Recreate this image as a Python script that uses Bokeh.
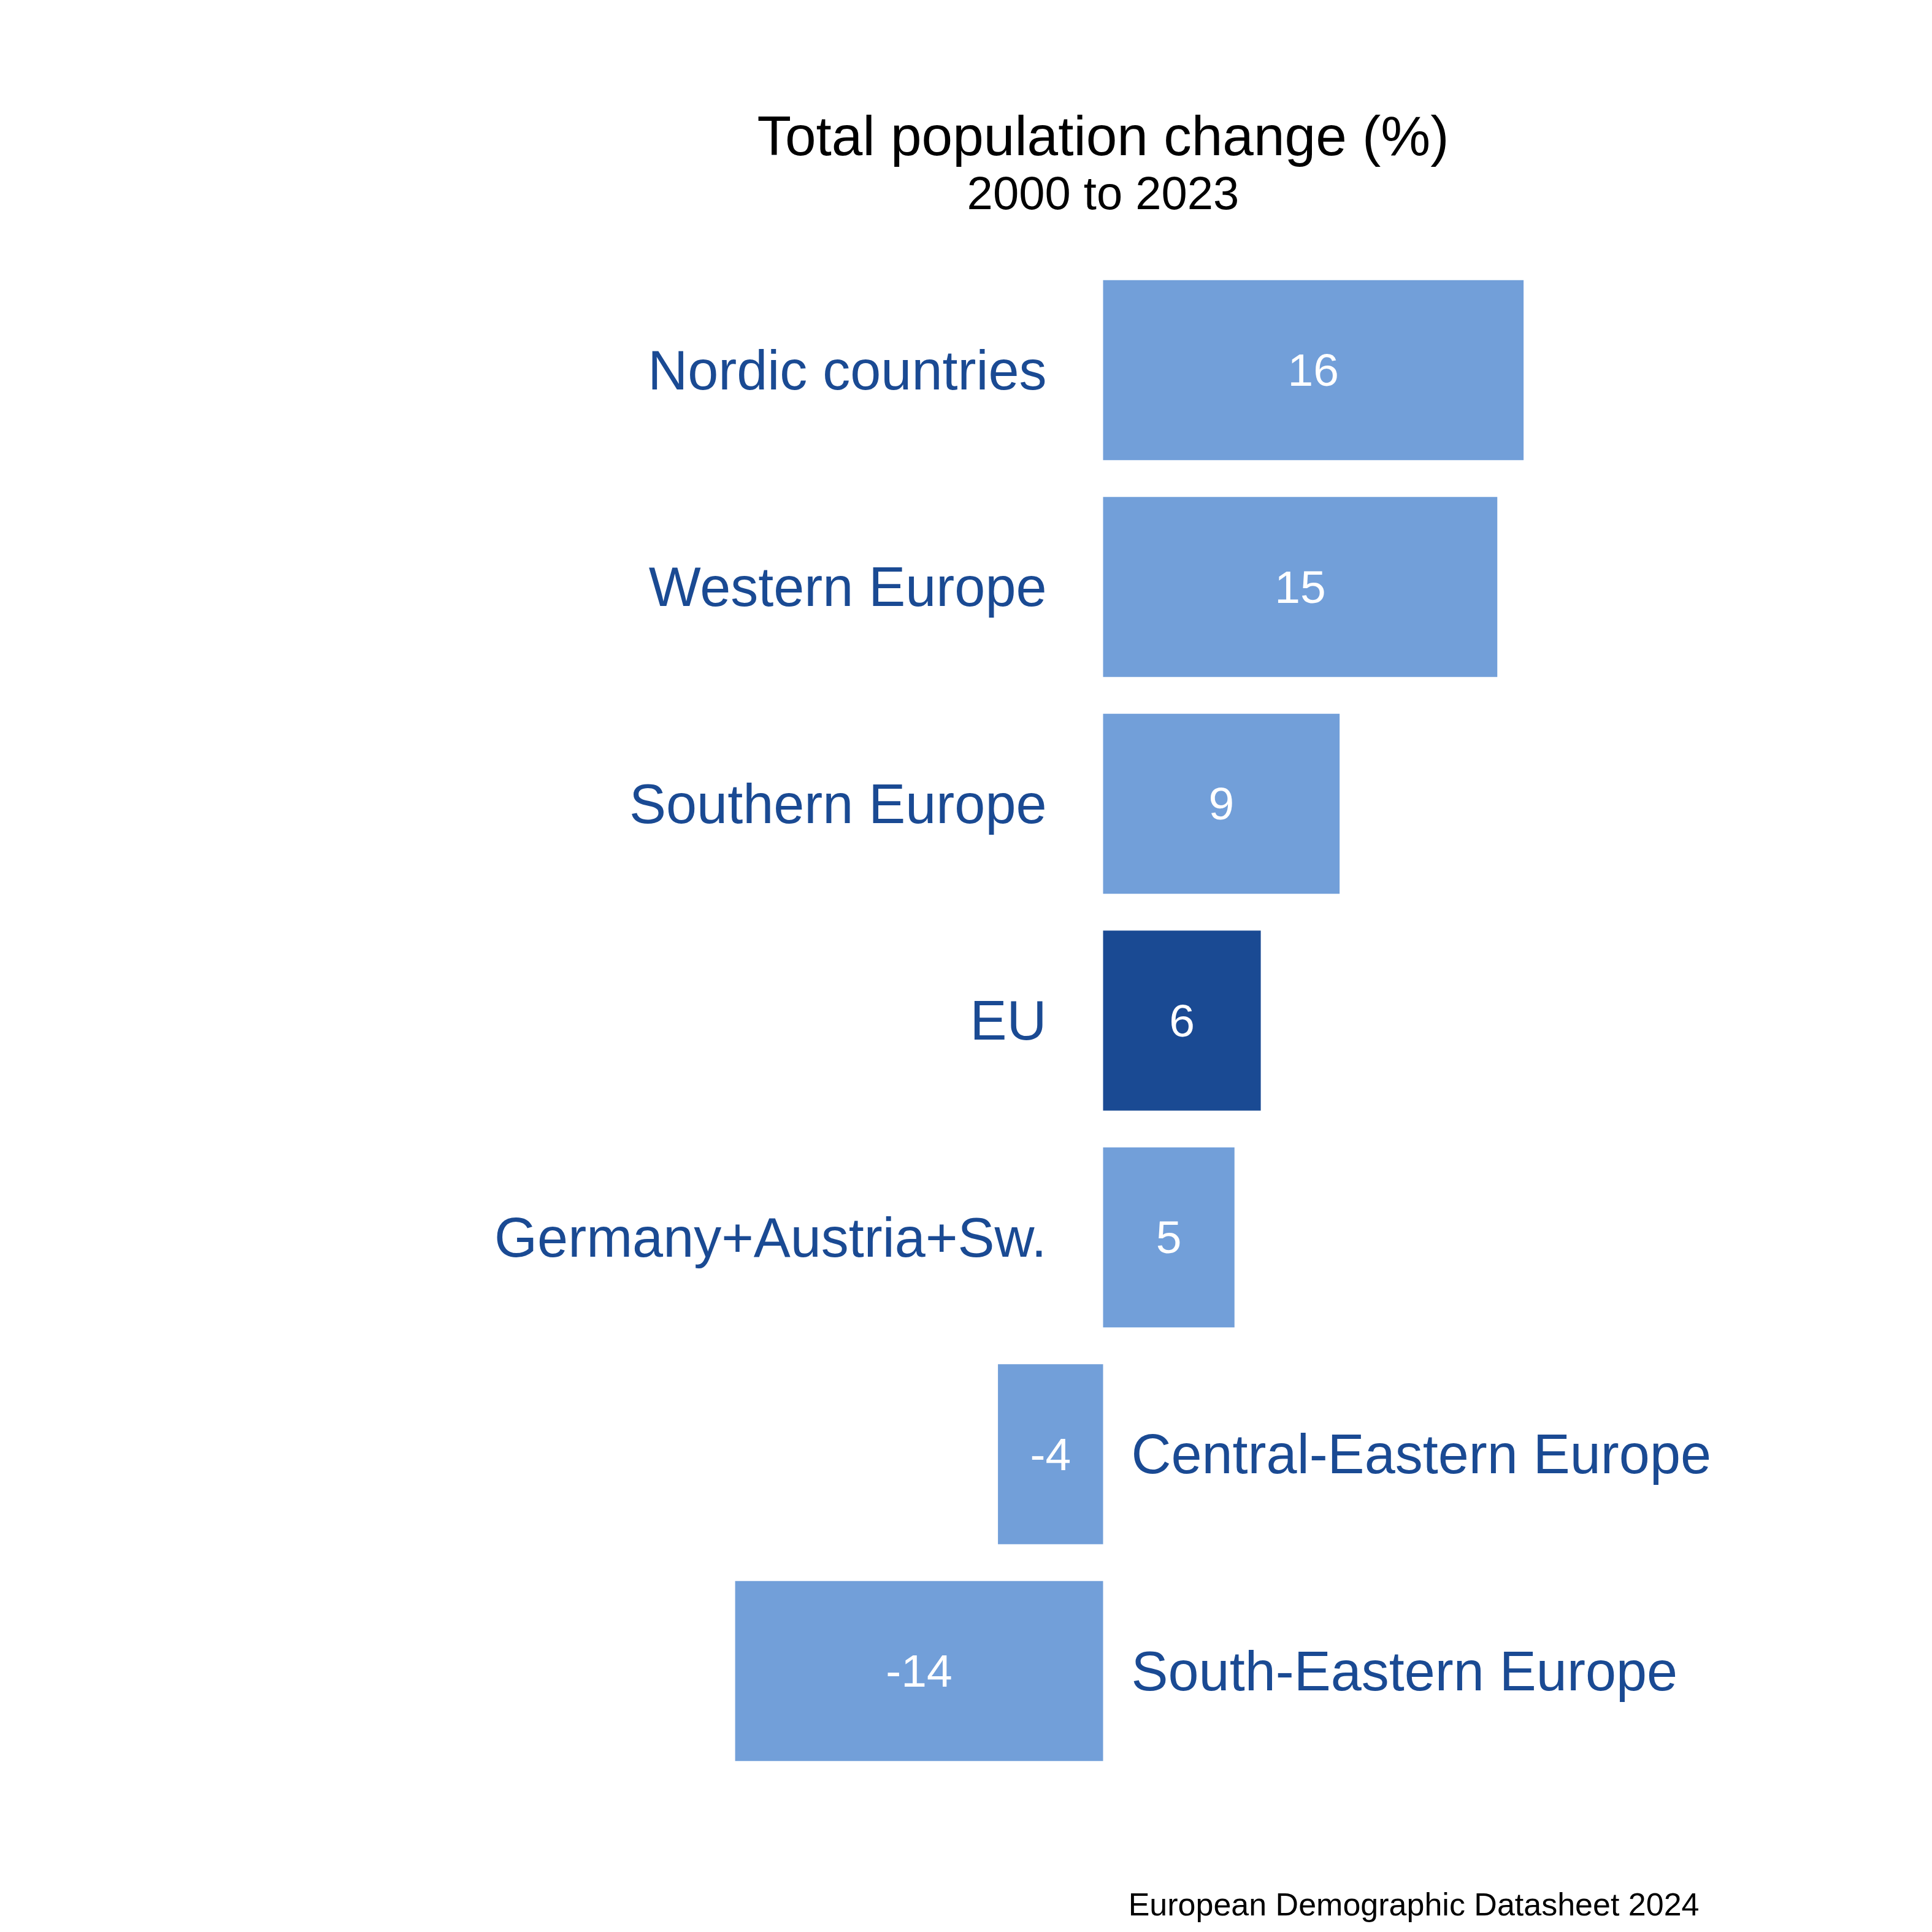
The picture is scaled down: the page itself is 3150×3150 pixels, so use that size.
import numpy as np
from bokeh.plotting import figure
from bokeh.models import ColumnDataSource, Label, Range1d
from bokeh.core.properties import value
from bokeh.embed import file_html
from bokeh.resources import INLINE

# ---- data (bottom to top) ----
categories = ["South-Eastern Europe", "Central-Eastern Europe", "Germany+Austria+Sw.",
              "EU", "Southern Europe", "Western Europe", "Nordic countries"]
changes = [-14, -4, 5, 6, 9, 15, 16]
highlight = ["EU"]

title_text = "Total population change (%)"
subtitle_text = "2000 to 2023"
caption_text = "European Demographic Datasheet 2024"

LIGHT = "#729FD9"
DARK = "#1A4A93"
FONT = "Liberation Sans"

W, H = 3134, 3134
ypos = np.arange(len(categories)) + 1
vals = np.array(changes, dtype=float)
colors = [DARK if c in highlight else LIGHT for c in categories]

src = ColumnDataSource(dict(
    y=ypos, v=vals, half=vals / 2, zero=np.zeros(len(vals)),
    color=colors, cat=categories, lab=[str(c) for c in changes],
))

pos_mask = vals >= 0
src_pos = ColumnDataSource(dict(y=ypos[pos_mask], zero=np.zeros(pos_mask.sum()),
                                cat=[c for c, m in zip(categories, pos_mask) if m]))
src_neg = ColumnDataSource(dict(y=ypos[~pos_mask], zero=np.zeros((~pos_mask).sum()),
                                cat=[c for c, m in zip(categories, pos_mask) if not m]))

px_per_unit = 42.85
zero_px = 1798.0
pitch = 353.5
top_center_px = 603.0
n = len(categories)

x_start = -zero_px / px_per_unit
x_end = (W - zero_px) / px_per_unit
y_end = n + top_center_px / pitch
y_start = y_end - H / pitch

p = figure(width=W, height=H, output_backend="svg", toolbar_location=None,
           x_range=Range1d(x_start, x_end), y_range=Range1d(y_start, y_end),
           min_border=0, min_border_left=0, min_border_right=0,
           min_border_top=0, min_border_bottom=0)
p.axis.visible = False
p.grid.visible = False
p.outline_line_color = None
p.background_fill_color = "white"
p.border_fill_color = "white"

p.hbar(y="y", left="zero", right="v", height=0.83, fill_color="color",
       line_color=None, source=src)

p.text(x="half", y="y", text="lab", source=src, text_color="white",
       text_font=value(FONT), text_font_size="75px", text_align="center",
       text_baseline="middle")

p.text(x="zero", y="y", text="cat", source=src_pos, text_color=DARK,
       text_font=value(FONT), text_font_size="90px", text_align="right",
       text_baseline="middle", x_offset=-92)
p.text(x="zero", y="y", text="cat", source=src_neg, text_color=DARK,
       text_font=value(FONT), text_font_size="90px", text_align="left",
       text_baseline="middle", x_offset=46)

p.add_layout(Label(x=0, y=H - 221, x_units="data", y_units="screen", text=title_text,
                   text_font=FONT, text_font_size="91px", text_color="black",
                   text_align="center", text_baseline="alphabetic"))
p.add_layout(Label(x=0, y=H - 314, x_units="data", y_units="screen", text=subtitle_text,
                   text_font=FONT, text_font_size="76px", text_color="black",
                   text_align="center", text_baseline="alphabetic"))
p.add_layout(Label(x=2770, y=30, x_units="screen", y_units="screen", text=caption_text,
                   text_font=FONT, text_font_size="52px", text_color="black",
                   text_align="right", text_baseline="alphabetic"))

open("out.html", "w").write(file_html(p, INLINE))
